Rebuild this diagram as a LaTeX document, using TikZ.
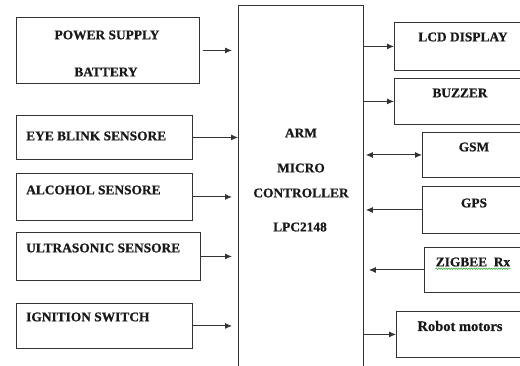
\documentclass[tikz,border=0pt]{standalone}
\usepackage{fontspec}
\setmainfont{Liberation Serif}
\newfontfamily\lblfont{Liberation Serif}[BoldFeatures={FakeBold=0.7}]
\usetikzlibrary{arrows.meta,decorations.pathmorphing}
\begin{document}
\begin{tikzpicture}[x=1pt,y=-1pt,
  box/.style={draw=black!80, line width=0.9pt, inner sep=0pt, anchor=north west},
  lbl/.style={font=\lblfont\bfseries\fontsize{13.4}{15}\selectfont, inner sep=0pt, text=black!90},
  arr/.style={draw=black!80, line width=0.9pt, -{Latex[length=7pt,width=6pt]}},
  darr/.style={draw=black!80, line width=0.9pt, {Latex[length=7pt,width=6pt]}-{Latex[length=7pt,width=6pt]}}]
\useasboundingbox (0,0) rectangle (520,366);
\fill[white] (0,0) rectangle (520,366);
\clip (0,0) rectangle (520,366);
% left boxes
\node[box, minimum width=183pt, minimum height=66pt] (pw) at (16,17) {};
\node[box, minimum width=176pt, minimum height=44pt] (eye) at (16,115) {};
\node[box, minimum width=176pt, minimum height=47pt] (alc) at (16,173) {};
\node[box, minimum width=184pt, minimum height=48pt] (ult) at (16,232) {};
\node[box, minimum width=176pt, minimum height=45pt] (ign) at (16,303) {};
% controller
\node[box, minimum width=125pt, minimum height=380pt] (arm) at (238,5) {};
% right boxes
\node[box, minimum width=140pt, minimum height=48pt] (lcd) at (394,22) {};
\node[box, minimum width=140pt, minimum height=46pt] (buz) at (394,78) {};
\node[box, minimum width=110pt, minimum height=45pt] (gsm) at (422,132) {};
\node[box, minimum width=110pt, minimum height=47pt] (gps) at (422,186) {};
\node[box, minimum width=110pt, minimum height=45pt] (zig) at (424,247) {};
\node[box, minimum width=140pt, minimum height=46pt] (rob) at (396,311) {};
% texts
\node[lbl] (tpw1) at (107,35) {POWER SUPPLY};
\node[lbl] (tpw2) at (106,72) {BATTERY};
\node[lbl, anchor=west] (teye) at (26,136) {EYE BLINK SENSORE};
\node[lbl, anchor=west] (talc) at (26,190) {ALCOHOL SENSORE};
\node[lbl, anchor=west] (tult) at (26,248) {ULTRASONIC SENSORE};
\node[lbl, anchor=west] (tign) at (26,317) {IGNITION SWITCH};
\node[lbl] (tarm1) at (301,133) {ARM};
\node[lbl] (tarm2) at (301,168) {MICRO};
\node[lbl] (tarm3) at (301,193) {CONTROLLER};
\node[lbl] (tarm4) at (300,227) {LPC2148};
\node[lbl] (tlcd) at (463,37) {LCD DISPLAY};
\node[lbl] (tbuz) at (460,93) {BUZZER};
\node[lbl] (tgsm) at (474,147) {GSM};
\node[lbl] (tgps) at (474,203) {GPS};
\node[lbl] (tzig) at (473,262) {ZIGBEE~~Rx};
\node[lbl, font=\lblfont\bfseries\fontsize{14.5}{16}\selectfont] (trob) at (460,326) {Robot motors};
\draw[green!60!black, line width=0.4pt, decorate, decoration={snake, amplitude=0.8pt, segment length=2.5pt}]
  ([yshift=-2pt]tzig.south west) -- ([yshift=-2pt]tzig.south east);
% connectors
\draw[arr, shorten <=3pt, shorten >=6pt] (pw.east) -- (arm.west |- pw.east);
\draw[arr] (eye.east) -- (arm.west |- eye.east);
\draw[arr, shorten >=6pt] (alc.east) -- (arm.west |- alc.east);
\draw[arr, shorten >=6pt] (ult.east) -- (arm.west |- ult.east);
\draw[arr, shorten >=6pt] (ign.east) -- (arm.west |- ign.east);
\draw[arr] (arm.east |- lcd.west) -- (lcd.west);
\draw[arr] (arm.east |- buz.west) -- (buz.west);
\draw[darr, shorten <=2pt] (arm.east |- gsm.west) -- (gsm.west);
\draw[arr, shorten >=2pt] (gps.west) -- (arm.east |- gps.west);
\draw[arr, shorten >=5pt] (zig.west) -- (arm.east |- zig.west);
\draw[arr] (arm.east |- rob.west) -- (rob.west);
\end{tikzpicture}
\end{document}
